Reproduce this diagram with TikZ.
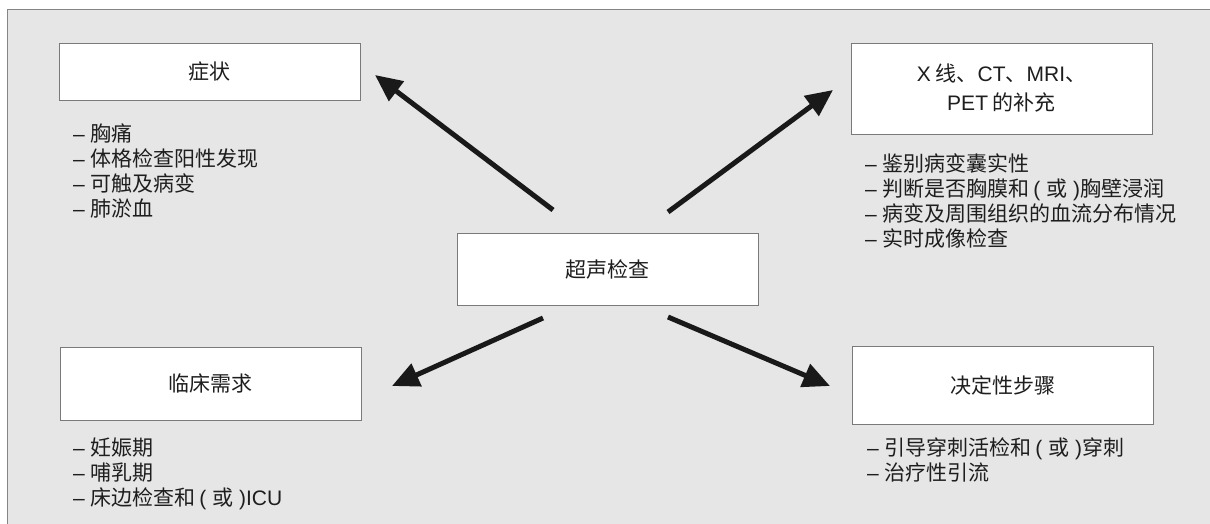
\documentclass[tikz,border=0pt]{standalone}
\usepackage{fontspec}
\setmainfont{Noto Sans CJK SC}
\newfontfamily\lat{Liberation Sans}
\usetikzlibrary{arrows.meta}
\definecolor{bggray}{HTML}{E6E6E6}
\definecolor{framecol}{HTML}{858585}
\definecolor{boxline}{HTML}{7A7A7A}
\definecolor{txt}{HTML}{1E1E1E}
\tikzset{
  titlebox/.style={draw=boxline, line width=0.8pt, fill=white, minimum width=301pt, inner sep=0pt,
    text=txt, font=\fontsize{21}{29}\selectfont, align=center},
  listtext/.style={anchor=north west, inner sep=0pt, align=left, text=txt,
    font=\fontsize{21}{25}\selectfont},
  bigarrow/.style={line width=5pt, -{Triangle[length=27pt,width=24pt]}, black!90},
}
\newcommand{\dsh}{{\lat –\hspace{6pt}}}
\begin{document}
\begin{tikzpicture}[x=1pt,y=-1pt]
\useasboundingbox (0,0) rectangle (1210,524);
\fill[white] (0,0) rectangle (1210,524);
\draw[framecol, line width=1pt, fill=bggray] (7,10) rectangle (1230,540);

\node[titlebox, minimum height=57pt] (sym) at (209.5,71.5) {症状};
\node[titlebox, minimum height=91pt] (img) at (1001.5,88.5) {{\lat X} 线、{\lat CT}、{\lat MRI}、\\{\lat PET} 的补充};
\node[titlebox, minimum height=73pt] (cli) at (210.5,383.5) {临床需求};
\node[titlebox, minimum height=78pt] (dec) at (1002.5,385) {决定性步骤};
\node[titlebox, minimum height=72pt] (us) at (607.5,269) {超声检查};

\node[listtext] (symlist) at (73,123.5) {\dsh 胸痛\\\dsh 体格检查阳性发现\\\dsh 可触及病变\\\dsh 肺淤血};
\node[listtext] (imglist) at (865,153) {\dsh 鉴别病变囊实性\\\dsh 判断是否胸膜和{\lat\,( }或{\lat\ )}胸壁浸润\\\dsh 病变及周围组织的血流分布情况\\\dsh 实时成像检查};
\node[listtext] (clilist) at (73,438) {\dsh 妊娠期\\\dsh 哺乳期\\\dsh 床边检查和{\lat\,( }或{\lat\ )}{\lat ICU}};
\node[listtext] (declist) at (867,438) {\dsh 引导穿刺活检和{\lat\,( }或{\lat\ )}穿刺\\\dsh 治疗性引流};

\coordinate (a1s) at (553,210);
\coordinate (a1e) at (375,75);
\coordinate (a2s) at (668,212);
\coordinate (a2e) at (833,90);
\coordinate (a3s) at (543,318);
\coordinate (a3e) at (392,386);
\coordinate (a4s) at (668,317);
\coordinate (a4e) at (830,386);
\draw[bigarrow] (a1s) -- (a1e);
\draw[bigarrow] (a2s) -- (a2e);
\draw[bigarrow] (a3s) -- (a3e);
\draw[bigarrow] (a4s) -- (a4e);
\end{tikzpicture}
\end{document}
